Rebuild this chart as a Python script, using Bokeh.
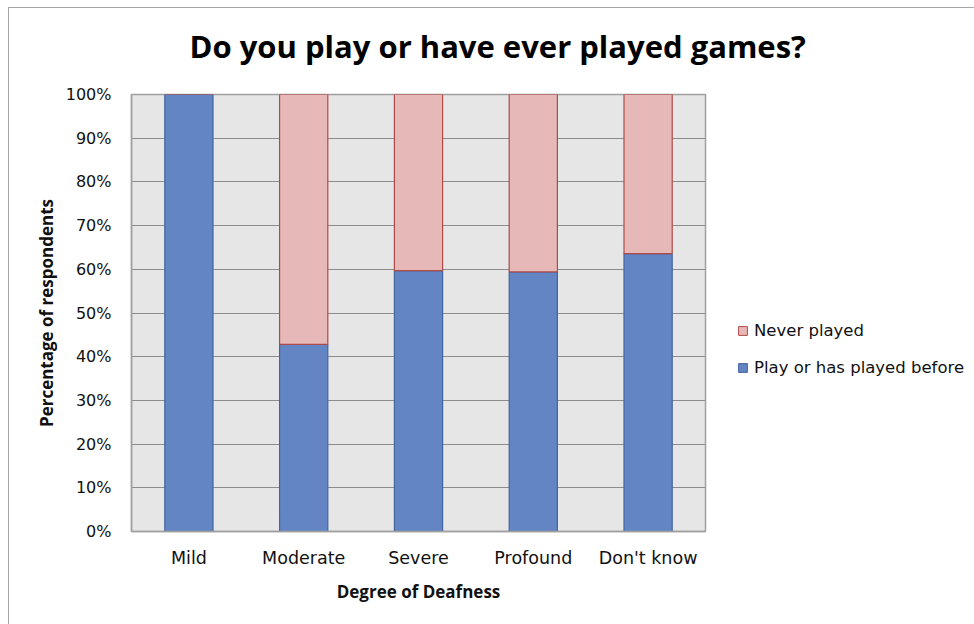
from bokeh.plotting import figure
from bokeh.models import FactorRange, Legend, LegendItem, NumeralTickFormatter, Title, FixedTicker
from bokeh.layouts import column, row
from bokeh.embed import file_html
from bokeh.resources import INLINE

categories = ["Mild", "Moderate", "Severe", "Profound", "Don't know"]
played = [1.0, 0.428, 0.597, 0.594, 0.636]
never = [0.0, 0.572, 0.403, 0.406, 0.364]
series_names = ["Play or has played before", "Never played"]
y_ticks = [i / 10 for i in range(11)]
colors = ["#6385C4", "#E6B9B8"]
edges = ["#41669F", "#B04A48"]

FONT = "DejaVu Sans"
BFONT = "Open Sans"

# title strip
p0 = figure(width=965, height=76, output_backend="svg", toolbar_location=None,
            x_axis_type=None, y_axis_type=None, x_range=(0, 1), y_range=(0, 1),
            min_border=0, min_border_top=62)
p0.outline_line_color = None
p0.grid.grid_line_color = None
t = Title(text="Do you play or have ever played games?", align="left", offset=180,
          text_font=BFONT, text_font_size="31px", text_font_style="bold", text_color="#000000",
          standoff=8)
p0.add_layout(t, "above")

# main chart
p = figure(width=711, height=540, x_range=FactorRange(*categories, range_padding=0),
           y_range=(0, 1), output_backend="svg", toolbar_location=None,
           min_border_left=122, min_border_right=15, min_border_top=10, min_border_bottom=93)

data = dict(cat=categories, played=played, never=never)
r = p.vbar_stack(["played", "never"], x="cat", width=0.42, source=data,
                 fill_color=colors, line_color=edges, line_width=1.2)

p.background_fill_color = "#E6E6E6"
p.border_fill_color = "white"
p.outline_line_color = "#A0A0A0"
p.outline_line_width = 1.5

p.ygrid.ticker = FixedTicker(ticks=y_ticks)
p.ygrid.grid_line_color = "#8C8C8C"
p.ygrid.grid_line_width = 1
p.xgrid.grid_line_color = None

p.yaxis.ticker = FixedTicker(ticks=y_ticks)
p.yaxis.formatter = NumeralTickFormatter(format="0%")
for ax in (p.xaxis[0], p.yaxis[0]):
    ax.axis_line_color = "#A0A0A0"
    ax.axis_line_width = 1.5
    ax.major_tick_line_color = None
    ax.minor_tick_line_color = None
    ax.major_label_text_font = FONT
    ax.major_label_text_font_size = "16px"
    ax.major_label_text_color = "#111111"
    ax.axis_label_text_font = BFONT
    ax.axis_label_text_font_size = "17px"
    ax.axis_label_text_font_style = "bold"
    ax.axis_label_text_color = "#111111"
p.xaxis.major_label_text_font_size = "17.5px"
p.yaxis.major_label_standoff = 14
p.xaxis.major_label_standoff = 10
p.yaxis.axis_label = "Percentage of respondents"
p.xaxis.axis_label = "Degree of Deafness"
p.yaxis.axis_label_standoff = 5
p.xaxis.axis_label_standoff = 9

# legend panel (dummy glyphs sit outside the visible range; only their legend swatches show)
p2 = figure(width=254, height=540, output_backend="svg", toolbar_location=None,
            x_axis_type=None, y_axis_type=None, x_range=(0, 1), y_range=(0, 1), min_border=0)
p2.outline_line_color = None
p2.grid.grid_line_color = None
g_played = p2.vbar(x=[5], top=[5], bottom=[4], width=0.1, fill_color=colors[0], line_color=edges[0])
g_never = p2.vbar(x=[5], top=[5], bottom=[4], width=0.1, fill_color=colors[1], line_color=edges[1])
legend = Legend(items=[LegendItem(label=series_names[1], renderers=[g_never]),
                       LegendItem(label=series_names[0], renderers=[g_played])],
                location=(17, 154), background_fill_alpha=0, border_line_color=None,
                label_text_font=FONT, label_text_font_size="16.5px", label_text_color="#111111",
                glyph_width=11, glyph_height=11, spacing=18, padding=0, label_standoff=6)
p2.add_layout(legend, "center")

layout = column(p0, row(p, p2, spacing=0), spacing=0,
                styles={"margin-left": "8px", "margin-top": "7px",
                        "border-left": "1px solid #A6A6A6", "border-top": "1px solid #A6A6A6"})

out = file_html(layout, INLINE)
open("out.html", "w").write(out)
